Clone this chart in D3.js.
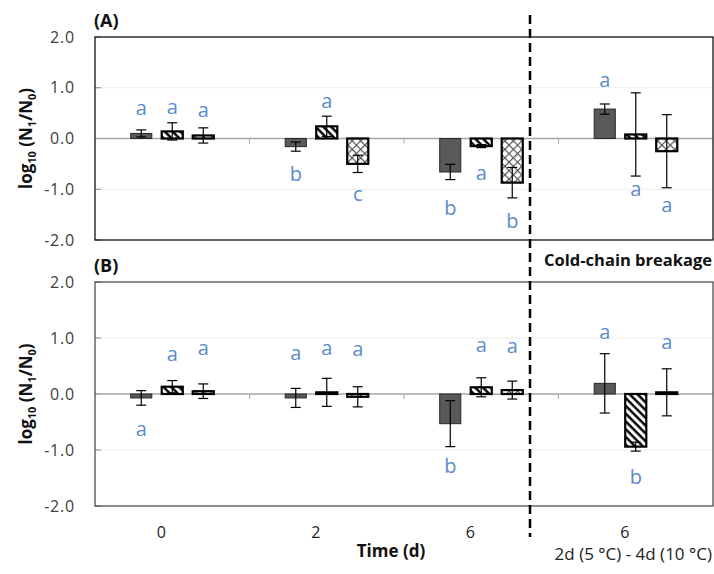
<!DOCTYPE html>
<html>
<head>
<meta charset="utf-8">
<script src="https://cdn.jsdelivr.net/npm/d3@7"></script>
<style>
  body { margin: 0; background: #fff; }
  text { font-family: "Open Sans", "Noto Sans", sans-serif; }
</style>
</head>
<body>
<svg id="chart" width="714" height="574"></svg>
<script>
// categories (the last "6" is the cold-chain breakage group)
const categories = ["0", "2", "6", "6c"];
const tickLabels = ["0", "2", "6", "6"];
const series = ["dark", "hatch", "cross"];
const yTicks = [2, 1, 0, -1, -2];

// panel A
const meanA = [[0.10, 0.14, 0.06], [-0.16, 0.24, -0.50], [-0.66, -0.15, -0.87], [0.58, 0.08, -0.25]];
const errA = [[0.07, 0.17, 0.15], [0.09, 0.20, 0.17], [0.15, 0.03, 0.30], [0.10, 0.82, 0.72]];
const lettersA = [["a", "a", "a"], ["b", "a", "c"], ["b", "a", "b"], ["a", "a", "a"]];
const letterYA = [[0.60, 0.62, 0.56], [-0.69, 0.74, -1.09], [-1.36, -0.68, -1.62], [1.16, -0.99, -1.32]];

// panel B
const meanB = [[-0.07, 0.13, 0.05], [-0.07, 0.03, -0.05], [-0.53, 0.12, 0.07], [0.19, -0.94, 0.03]];
const errB = [[0.13, 0.11, 0.13], [0.17, 0.25, 0.18], [0.41, 0.17, 0.16], [0.53, 0.08, 0.42]];
const lettersB = [["a", "a", "a"], ["a", "a", "a"], ["b", "a", "a"], ["a", "b", "a"]];
const letterYB = [[-0.63, 0.71, 0.82], [0.73, 0.82, 0.80], [-1.28, 0.88, 0.85], [1.11, -1.49, 0.92]];

const svg = d3.select("#chart");
const left = 95, right = 713;
const blue = "#5b8bcb";
const fmt = d => d3.format(".1f")(d).replace("\u2212", "-");

const x0 = d3.scaleBand().domain(categories).range([left, right]);
const groupW = 93;
const x1 = d3.scaleBand().domain(series).range([0, groupW]).paddingInner(0.32).paddingOuter(0.16);
const barX = (c, s) => x0(c) + x0.bandwidth() / 2 - groupW / 2 + x1(s);

// patterns
const defs = svg.append("defs");
const hatch = defs.append("pattern").attr("id", "hatch")
    .attr("patternUnits", "userSpaceOnUse").attr("width", 5.5).attr("height", 5.5)
    .attr("patternTransform", "rotate(-45)");
hatch.append("rect").attr("width", 5.5).attr("height", 5.5).attr("fill", "#fff");
hatch.append("line").attr("x1", 1.5).attr("x2", 1.5).attr("y1", 0).attr("y2", 5.5)
    .attr("stroke", "#000").attr("stroke-width", 2.4);

const cross = defs.append("pattern").attr("id", "cross")
    .attr("patternUnits", "userSpaceOnUse").attr("width", 6).attr("height", 6)
    .attr("patternTransform", "rotate(45)");
cross.append("rect").attr("width", 6).attr("height", 6).attr("fill", "#fff");
cross.append("line").attr("x1", 0.6).attr("x2", 0.6).attr("y1", 0).attr("y2", 6)
    .attr("stroke", "#555").attr("stroke-width", 1.2);
cross.append("line").attr("x1", 0).attr("x2", 6).attr("y1", 0.6).attr("y2", 0.6)
    .attr("stroke", "#555").attr("stroke-width", 1.2);

const fills = { dark: "#595959", hatch: "url(#hatch)", cross: "url(#cross)" };

function drawPanel(top, bottom, means, errs, letters, letterY, label, frameColor) {
    const y = d3.scaleLinear().domain([-2, 2]).range([bottom, top]);
    const g = svg.append("g");

    // grid lines at +-1
    g.selectAll(".grid").data([1, -1]).enter().append("line")
        .attr("x1", left).attr("x2", right)
        .attr("y1", d => y(d)).attr("y2", d => y(d))
        .attr("stroke", "#ececec").attr("stroke-width", 1);

    // y axis
    const yAxis = g.append("g").attr("transform", `translate(${left},0)`)
        .call(d3.axisLeft(y).tickValues(yTicks).tickFormat(fmt).tickSize(0).tickPadding(20));
    yAxis.select(".domain").remove();
    yAxis.selectAll("text").attr("font-size", 16).attr("fill", "#404040")
        .attr("letter-spacing", 0.8);
    // inward tick marks
    g.selectAll(".ytick").data(yTicks).enter().append("line")
        .attr("x1", left).attr("x2", left + 6)
        .attr("y1", d => y(d)).attr("y2", d => y(d))
        .attr("stroke", "#8c8c8c");

    // zero line + category separators
    g.append("line").attr("x1", left).attr("x2", right)
        .attr("y1", y(0)).attr("y2", y(0))
        .attr("stroke", "#a6a6a6").attr("stroke-width", 1.5);
    g.selectAll(".sep").data(categories.slice(1)).enter().append("line")
        .attr("x1", d => x0(d)).attr("x2", d => x0(d))
        .attr("y1", y(0)).attr("y2", y(0) + 5)
        .attr("stroke", "#a6a6a6");

    // bars
    const rows = [];
    categories.forEach((c, i) => series.forEach((s, j) => rows.push({
        c, s, v: means[i][j], e: errs[i][j], l: letters[i][j], ly: letterY[i][j]
    })));

    g.selectAll(".bar").data(rows).enter().append("rect")
        .attr("x", d => barX(d.c, d.s))
        .attr("width", x1.bandwidth())
        .attr("y", d => y(Math.max(0, d.v)))
        .attr("height", d => Math.abs(y(d.v) - y(0)))
        .attr("fill", d => fills[d.s])
        .attr("stroke", d => d.s === "dark" ? "#262626" : "#000")
        .attr("stroke-width", d => d.s === "dark" ? 1 : 2.2);

    // error bars
    const eb = g.selectAll(".err").data(rows).enter().append("g")
        .attr("stroke", "#000").attr("stroke-width", 1.2);
    const cx = d => barX(d.c, d.s) + x1.bandwidth() / 2;
    eb.append("line").attr("x1", cx).attr("x2", cx)
        .attr("y1", d => y(d.v + d.e)).attr("y2", d => y(d.v - d.e));
    [1, -1].forEach(sign => {
        eb.append("line").attr("x1", d => cx(d) - 5).attr("x2", d => cx(d) + 5)
            .attr("y1", d => y(d.v + sign * d.e)).attr("y2", d => y(d.v + sign * d.e));
    });

    // significance letters
    g.selectAll(".letter").data(rows).enter().append("text")
        .attr("x", cx).attr("y", d => y(d.ly)).attr("dy", "0.35em")
        .attr("text-anchor", "middle").attr("font-size", 20).attr("fill", blue)
        .text(d => d.l);

    // frame
    g.append("rect").attr("x", left).attr("y", top)
        .attr("width", right - left).attr("height", bottom - top)
        .attr("fill", "none").attr("stroke", frameColor).attr("stroke-width", 1.2);

    // panel label
    svg.append("text").attr("x", left - 1).attr("y", top - 10)
        .attr("font-size", 18).attr("font-weight", 700).attr("fill", "#111").text(label);

    // y title
    const t = svg.append("text")
        .attr("transform", `translate(32,${y(0)}) rotate(-90)`)
        .attr("text-anchor", "middle").attr("font-size", 17).attr("font-weight", 700).attr("fill", "#111");
    t.append("tspan").text("log");
    t.append("tspan").attr("font-size", 11).attr("dy", 4).text("10");
    t.append("tspan").attr("dy", -4).text(" (N");
    t.append("tspan").attr("font-size", 11).attr("dy", 4).text("1");
    t.append("tspan").attr("dy", -4).text("/N");
    t.append("tspan").attr("font-size", 11).attr("dy", 4).text("0");
    t.append("tspan").attr("dy", -4).text(")");
    return y;
}

drawPanel(37, 240, meanA, errA, lettersA, letterYA, "(A)", "#000");
drawPanel(282, 506, meanB, errB, lettersB, letterYB, "(B)", "#404040");

// x axis labels
const xLabelOffset = -11;
svg.selectAll(".xlab").data(categories).enter().append("text")
    .attr("x", d => x0(d) + x0.bandwidth() / 2 + xLabelOffset)
    .attr("y", 538).attr("text-anchor", "middle")
    .attr("font-size", 16).attr("fill", "#222")
    .text((d, i) => tickLabels[i]);

svg.append("text").attr("x", 391).attr("y", 557).attr("text-anchor", "middle")
    .attr("font-size", 17).attr("font-weight", 700).attr("fill", "#111").text("Time (d)");
svg.append("text").attr("x", 712).attr("y", 560).attr("text-anchor", "end")
    .attr("font-size", 17).attr("fill", "#222").text("2d (5 °C) - 4d (10 °C)");

// cold-chain breakage separator
const breakX = x0("6c") - 28.5;
svg.append("line").attr("x1", breakX).attr("x2", breakX).attr("y1", 15).attr("y2", 537)
    .attr("stroke", "#000").attr("stroke-width", 2.5).attr("stroke-dasharray", "9,5");
svg.append("text").attr("x", 712).attr("y", 266).attr("text-anchor", "end")
    .attr("font-size", 16.5).attr("font-weight", 700).attr("fill", "#111").text("Cold-chain breakage");
</script>
</body>
</html>
